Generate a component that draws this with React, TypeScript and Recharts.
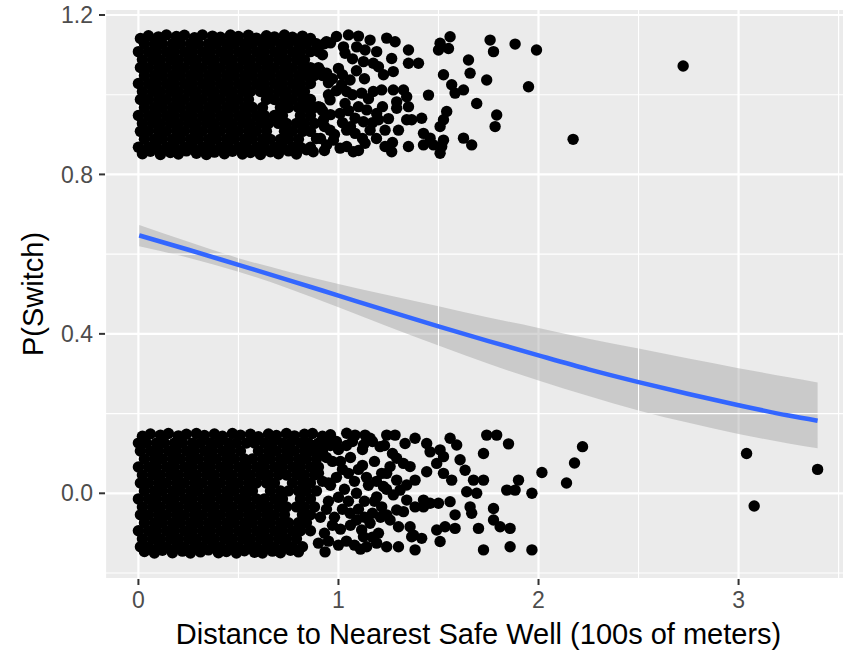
import React from 'react';
import { ComposedChart, XAxis, YAxis, Scatter, Line, Area, ReferenceLine, CartesianGrid } from 'recharts';

const xTicks = [0, 1, 2, 3];
const yTicks = [0, 0.4, 0.8, 1.2];
const xMinor = [0.5, 1.5, 2.5, 3.5];
const yMinor = [-0.2, 0.2, 0.6, 1.0];

// fitted logistic curve and 95% band
const fitX = [0.004, 0.25, 0.5, 0.75, 1, 1.25, 1.5, 1.75, 2, 2.25, 2.5, 2.75, 3, 3.25, 3.395];
const fitP = [0.647, 0.611, 0.573, 0.535, 0.496, 0.457, 0.419, 0.382, 0.346, 0.311, 0.279, 0.249, 0.221, 0.195, 0.182];
const fitLo = [0.620, 0.591, 0.556, 0.514, 0.467, 0.418, 0.371, 0.325, 0.283, 0.244, 0.208, 0.177, 0.149, 0.125, 0.113];
const fitHi = [0.673, 0.631, 0.590, 0.556, 0.525, 0.497, 0.469, 0.441, 0.415, 0.388, 0.363, 0.338, 0.314, 0.291, 0.278];

// dense jittered points, switched (top) — interior rows of [y, xs]
const topRows: [number, number[]][] = [
  [1.128, [0.03,0.08,0.12,0.17,0.21,0.26,0.30,0.35,0.39,0.44,0.48,0.53,0.57,0.62,0.66,0.71,0.75,0.80,0.84,0.89,0.93]],
  [1.108, [0.00,0.05,0.09,0.14,0.18,0.23,0.27,0.32,0.36,0.41,0.45,0.50,0.54,0.59,0.63,0.68,0.72,0.77,0.81,0.86,0.90]],
  [1.088, [0.02,0.07,0.11,0.16,0.20,0.25,0.29,0.34,0.38,0.43,0.47,0.52,0.56,0.61,0.65,0.70,0.74,0.79,0.83]],
  [1.068, [0.01,0.05,0.10,0.14,0.19,0.23,0.28,0.32,0.37,0.41,0.46,0.50,0.55,0.59,0.64,0.68,0.73,0.77,0.82,0.86,0.90]],
  [1.048, [0.03,0.08,0.12,0.17,0.21,0.26,0.30,0.35,0.39,0.44,0.48,0.53,0.57,0.62,0.66,0.71,0.75,0.80,0.84,0.88,0.92]],
  [1.028, [0.00,0.05,0.09,0.14,0.18,0.23,0.27,0.32,0.36,0.41,0.45,0.50,0.54,0.59,0.63,0.68,0.72,0.77,0.81,0.86]],
  [1.008, [0.02,0.07,0.11,0.16,0.20,0.25,0.29,0.34,0.38,0.43,0.47,0.52,0.56,0.61,0.65,0.70,0.74,0.79,0.83]],
  [0.988, [0.01,0.05,0.10,0.14,0.19,0.23,0.28,0.32,0.37,0.41,0.46,0.50,0.55,0.64,0.68,0.73,0.77,0.82,0.86]],
  [0.968, [0.03,0.08,0.12,0.17,0.21,0.26,0.30,0.35,0.39,0.44,0.48,0.53,0.57,0.62,0.71,0.75,0.80,0.84,0.88,0.91]],
  [0.948, [0.00,0.05,0.09,0.14,0.18,0.23,0.27,0.32,0.36,0.41,0.45,0.50,0.54,0.59,0.63,0.68,0.72,0.81,0.86]],
  [0.928, [0.02,0.07,0.11,0.16,0.20,0.25,0.29,0.34,0.38,0.43,0.47,0.52,0.56,0.61,0.65,0.70,0.74,0.79,0.83,0.88]],
  [0.908, [0.01,0.05,0.10,0.14,0.19,0.23,0.28,0.32,0.37,0.41,0.46,0.50,0.55,0.59,0.64,0.73,0.77,0.82,0.86]],
  [0.888, [0.03,0.08,0.12,0.17,0.21,0.26,0.30,0.35,0.39,0.44,0.48,0.53,0.57,0.62,0.66,0.71,0.75,0.80]],
  [0.868, [0.00,0.05,0.09,0.14,0.18,0.23,0.27,0.32,0.36,0.41,0.45,0.50,0.54,0.59,0.63,0.68,0.72,0.77,0.81,0.86]],
];

// dense jittered points, not switched (bottom) — interior rows of [y, xs]
const bottomRows: [number, number[]][] = [
  [0.126, [0.00,0.04,0.09,0.13,0.18,0.22,0.27,0.31,0.36,0.40,0.45,0.49,0.54,0.58,0.63,0.67,0.72,0.76,0.81,0.85,0.90,0.94]],
  [0.106, [0.01,0.06,0.10,0.15,0.19,0.24,0.28,0.33,0.37,0.42,0.46,0.51,0.60,0.65,0.69,0.74,0.78,0.83,0.87,0.92]],
  [0.086, [0.03,0.08,0.12,0.17,0.21,0.26,0.30,0.35,0.39,0.44,0.48,0.53,0.57,0.62,0.66,0.71,0.75,0.80,0.84,0.89]],
  [0.066, [0.00,0.05,0.09,0.14,0.18,0.23,0.27,0.32,0.36,0.41,0.45,0.50,0.54,0.59,0.63,0.68,0.72,0.77,0.81,0.86,0.90]],
  [0.046, [0.02,0.07,0.11,0.16,0.20,0.25,0.29,0.34,0.38,0.43,0.47,0.52,0.56,0.61,0.65,0.70,0.74,0.79,0.83,0.88]],
  [0.026, [0.01,0.05,0.10,0.14,0.19,0.23,0.28,0.32,0.37,0.41,0.46,0.50,0.55,0.59,0.64,0.68,0.77,0.82,0.86,0.95]],
  [0.006, [0.03,0.08,0.12,0.17,0.21,0.26,0.30,0.35,0.39,0.44,0.48,0.53,0.57,0.66,0.71,0.75,0.80,0.84,0.89]],
  [-0.014, [0.00,0.05,0.09,0.14,0.18,0.23,0.27,0.32,0.36,0.41,0.45,0.50,0.54,0.59,0.63,0.68,0.72,0.81,0.86]],
  [-0.034, [0.02,0.07,0.11,0.16,0.20,0.25,0.29,0.34,0.38,0.43,0.47,0.52,0.56,0.61,0.65,0.70,0.74,0.79,0.83,0.88]],
  [-0.054, [0.01,0.05,0.10,0.14,0.19,0.23,0.28,0.32,0.37,0.41,0.46,0.50,0.55,0.59,0.64,0.68,0.73,0.82,0.86]],
  [-0.074, [0.03,0.08,0.12,0.17,0.21,0.26,0.30,0.35,0.39,0.44,0.48,0.53,0.57,0.62,0.66,0.71,0.75,0.80,0.84]],
  [-0.094, [0.00,0.05,0.09,0.14,0.18,0.23,0.27,0.32,0.36,0.41,0.45,0.50,0.54,0.59,0.63,0.68,0.72,0.77,0.81,0.86]],
  [-0.114, [0.02,0.07,0.11,0.16,0.20,0.25,0.29,0.34,0.38,0.43,0.47,0.52,0.56,0.61,0.65,0.70,0.74,0.79]],
  [-0.134, [0.01,0.05,0.10,0.14,0.19,0.23,0.28,0.32,0.37,0.41,0.46,0.50,0.55,0.59,0.64,0.68,0.73,0.77,0.82]],
];

// edge and scattered points, switched (top): [x, y]
const topSparse: [number, number][] = [
  [0.01,1.141],[0.05,1.148],[0.10,1.145],[0.14,1.150],[0.19,1.146],[0.23,1.149],[0.28,1.143],[0.32,1.150],
  [0.37,1.147],[0.41,1.144],[0.46,1.150],[0.50,1.146],[0.55,1.149],[0.59,1.142],[0.64,1.148],[0.68,1.145],
  [0.73,1.150],[0.77,1.144],[0.82,1.147],[0.86,1.141],
  [0.02,0.852],[0.06,0.858],[0.11,0.850],[0.16,0.855],[0.20,0.851],[0.24,0.859],[0.29,0.853],[0.34,0.850],
  [0.38,0.856],[0.43,0.852],[0.47,0.858],[0.52,0.851],[0.56,0.855],[0.61,0.850],[0.66,0.857],[0.70,0.852],
  [0.75,0.859],[0.79,0.851],[0.84,0.862],
  [0.92,1.10],[0.95,1.00],[0.90,0.97],[0.93,0.92],[0.97,1.04],[0.91,1.06],[0.89,0.89],[0.92,0.96],
  [0.96,1.13],[1.07,1.09],[1.02,1.05],[1.09,1.06],[1.13,1.04],[0.95,1.03],[1.07,1.00],[0.99,1.01],
  [1.15,0.99],[1.05,0.96],[0.96,0.95],[1.10,0.97],[1.22,0.97],[1.17,0.93],[1.02,0.93],[1.06,0.92],
  [0.98,0.90],[1.12,0.89],[1.19,0.89],[0.91,0.89],[1.25,0.94],[1.27,0.88],[1.10,0.86],[0.93,0.86],
  [0.94,1.133],[0.99,1.146],[1.05,1.15],[1.10,1.147],[1.025,1.12],[1.033,1.104],[1.091,1.12],[1.133,1.112],
  [1.158,1.137],[1.191,1.108],[1.241,1.142],[1.283,1.133],[1.266,1.091],[1.35,1.112],[1.35,1.079],[1.40,1.079],
  [1.125,1.083],[1.174,1.079],[1.20,1.07],[1.225,1.05],[1.274,1.058],[1.0,1.066],[0.941,1.054],[1.058,1.037],
  [1.016,1.025],[1.041,1.008],[1.116,1.004],[1.174,1.008],[1.216,1.012],[1.274,1.012],[1.325,1.012],[1.341,0.995],
  [1.35,0.970],[1.291,0.966],[1.291,0.982],[1.141,0.962],[1.191,0.953],[1.083,0.941],[1.125,0.932],[1.20,0.937],
  [1.033,0.978],[1.008,0.953],[0.958,0.987],[0.925,0.937],[0.958,0.911],[1.041,0.911],[1.083,0.903],[1.158,0.911],
  [1.233,0.911],[1.30,0.911],[1.341,0.937],[1.366,0.937],[1.416,0.941],[1.425,0.903],[1.458,0.891],[1.475,0.874],
  [1.516,0.870],[1.525,0.886],[1.508,0.853],[1.425,0.874],[1.35,0.870],[1.233,0.870],[1.266,0.857],[1.133,0.878],
  [1.074,0.857],[1.041,0.870],[0.975,0.886],[0.941,0.874],[0.874,0.857],[1.008,0.866],[1.525,0.937],[1.541,0.958],
  [1.508,0.920],[1.45,0.999],[1.525,1.05],[1.566,1.025],[1.583,1.004],[1.625,1.012],[1.658,1.054],[1.65,1.087],
  [1.691,0.978],[1.741,1.037],[1.508,1.129],[1.558,1.1455],[1.55,1.116],[1.50,1.112],[1.758,1.137],[1.775,1.108],
  [1.883,1.127],[1.99,1.112],[1.95,1.02],[1.791,0.949],[1.783,0.920],[1.625,0.891],[1.666,0.874],[2.173,0.888],
  [2.723,1.072],
];

// edge and scattered points, not switched (bottom): [x, y]
const bottomSparse: [number, number][] = [
  [0.02,0.143],[0.06,0.149],[0.11,0.146],[0.15,0.150],[0.20,0.144],[0.24,0.148],[0.29,0.150],[0.33,0.145],
  [0.38,0.149],[0.42,0.143],[0.47,0.150],[0.51,0.146],[0.56,0.148],[0.60,0.142],[0.65,0.149],[0.69,0.145],
  [0.74,0.150],[0.78,0.144],[0.83,0.148],[0.87,0.150],[0.92,0.143],[0.96,0.147],
  [0.03,-0.146],[0.08,-0.150],[0.12,-0.143],[0.17,-0.149],[0.22,-0.145],[0.26,-0.150],[0.31,-0.147],[0.35,-0.142],
  [0.40,-0.149],[0.44,-0.146],[0.49,-0.150],[0.53,-0.144],[0.58,-0.148],[0.62,-0.150],[0.67,-0.145],[0.71,-0.149],
  [0.76,-0.143],[0.80,-0.147],
  [0.92,0.03],[0.97,0.08],[1.00,0.11],[0.95,-0.02],[0.98,-0.06],[0.93,-0.10],[1.02,0.06],[0.96,0.12],
  [1.01,-0.09],[0.90,-0.125],[1.03,0.01],[0.99,0.04],[1.06,0.09],[1.08,0.03],[1.05,-0.02],[1.10,0.06],
  [1.12,0.11],[1.04,-0.12],[1.08,-0.13],[1.15,0.02],[1.18,0.08],[1.17,-0.05],[1.13,-0.02],[1.20,-0.10],
  [1.10,-0.04],[0.94,-0.04],[0.91,0.10],[1.00,-0.01],
  [0.88,0.12],[0.94,0.09],[0.99,0.13],[1.04,0.12],[1.07,0.13],[1.01,0.08],[1.05,0.05],[0.96,0.02],
  [1.12,0.07],[1.14,0.04],[1.19,0.03],[1.09,0.00],[1.02,-0.04],[1.13,-0.06],[0.97,-0.08],[1.06,-0.08],
  [1.21,-0.06],[1.18,-0.02],[1.24,0.01],[0.95,-0.12],[1.00,-0.13],[1.11,-0.14],[1.17,-0.11],[0.91,-0.06],
  [0.90,0.05],[1.27,0.10],[1.23,0.12],[1.17,0.13],
  [1.041,0.1505],[1.083,0.146],[1.133,0.146],[1.158,0.138],[1.125,0.121],[1.208,0.117],[1.241,0.146],[1.283,0.146],
  [1.333,0.125],[1.383,0.138],[1.441,0.125],[1.458,0.104],[1.508,0.109],[1.558,0.138],[1.591,0.121],[1.525,0.092],
  [1.491,0.075],[1.608,0.084],[1.633,0.058],[1.675,0.033],[1.725,0.033],[1.741,0.146],[1.791,0.146],[1.85,0.124],
  [1.725,0.100],[1.441,0.054],[1.525,0.050],[1.566,0.033],[1.383,0.033],[1.291,0.088],[1.325,0.075],[1.358,0.067],
  [1.241,0.050],[1.291,0.033],[1.341,0.021],[1.308,0.008],[1.274,-0.004],[1.341,-0.017],[1.291,-0.042],[1.325,-0.046],
  [1.258,-0.067],[1.30,-0.084],[1.358,-0.084],[1.375,-0.105],[1.416,-0.113],[1.383,-0.142],[1.30,-0.134],[1.241,-0.134],
  [1.191,-0.125],[1.141,-0.134],[1.158,-0.075],[1.116,-0.092],[1.091,-0.067],[1.125,-0.109],[0.933,-0.147],[1.425,-0.034],
  [1.458,-0.025],[1.50,-0.025],[1.558,-0.021],[1.583,-0.054],[1.658,-0.034],[1.641,0.004],[1.691,0.0],[1.666,-0.050],
  [1.775,-0.038],[1.775,-0.067],[1.808,-0.084],[1.858,-0.088],[1.841,0.008],[1.883,0.008],[1.90,0.033],[1.967,0.0],
  [2.017,0.052],[1.70,-0.088],[1.491,-0.092],[1.533,-0.084],[1.583,-0.088],[1.508,-0.121],[1.366,-0.109],[1.725,-0.142],
  [1.858,-0.134],[1.967,-0.142],[1.216,0.050],[1.258,0.067],[1.425,-0.017],[1.383,-0.034],[1.225,0.017],[1.191,-0.009],
  [1.216,-0.034],[1.241,-0.054],[1.058,-0.050],
  [2.14,0.026],[2.18,0.076],[2.22,0.117],[3.04,0.100],[3.078,-0.032],[3.395,0.060],
];

const fitData = fitX.map((x, i) => ({ x, p: fitP[i], band: [fitLo[i], fitHi[i]] }));

const points: { x: number; y: number }[] = [];
topRows.forEach(([y, xs]) => xs.forEach((x) => points.push({ x, y })));
bottomRows.forEach(([y, xs]) => xs.forEach((x) => points.push({ x, y })));
topSparse.forEach(([x, y]) => points.push({ x, y }));
bottomSparse.forEach(([x, y]) => points.push({ x, y }));

const FONT = '"Liberation Sans", Arial, Helvetica, sans-serif';

const Dot = (props: any) => <circle cx={props.cx} cy={props.cy} r={5.7} fill="#000000" />;

export default function App() {
  return (
    <div style={{ position: 'absolute', left: 0, top: 0, width: 843, height: 651, overflow: 'hidden', background: '#FFFFFF' }}>
      <ComposedChart width={860} height={651} data={fitData} margin={{ top: 9, right: 8, bottom: 0, left: 0 }}>
        <CartesianGrid fill="#EBEBEB" stroke="#FFFFFF" strokeWidth={2.2} />
        {xMinor.map((v) => (
          <ReferenceLine key={'vx' + v} x={v} stroke="#FFFFFF" strokeWidth={1.1} />
        ))}
        {yMinor.map((v) => (
          <ReferenceLine key={'hy' + v} y={v} stroke="#FFFFFF" strokeWidth={1.1} />
        ))}
        <XAxis
          type="number"
          dataKey="x"
          domain={[-0.167, 3.567]}
          ticks={xTicks}
          allowDataOverflow
          height={72}
          axisLine={false}
          tickSize={6}
          tickMargin={7}
          tickLine={{ stroke: '#333333', strokeWidth: 2 }}
          tick={{ fill: '#4D4D4D', fontSize: 23, fontFamily: FONT }}
          interval={0}
        />
        <YAxis
          type="number"
          domain={[-0.215, 1.215]}
          ticks={yTicks}
          allowDataOverflow
          width={105}
          axisLine={false}
          tickSize={6}
          tickMargin={6}
          tickLine={{ stroke: '#333333', strokeWidth: 2 }}
          tick={{ fill: '#4D4D4D', fontSize: 23, fontFamily: FONT }}
          tickFormatter={(v: number) => v.toFixed(1)}
          interval={0}
        />
        <Scatter data={points} dataKey="y" shape={Dot} isAnimationActive={false} />
        <Area dataKey="band" type="monotone" fill="#999999" fillOpacity={0.4} stroke="none" isAnimationActive={false} />
        <Line dataKey="p" type="monotone" stroke="#3366FF" strokeWidth={4.5} dot={false} isAnimationActive={false} />
      </ComposedChart>
      <svg width={843} height={651} style={{ position: 'absolute', left: 0, top: 0, pointerEvents: 'none' }}>
        <text x={478.5} y={644} textAnchor="middle" fontSize={29} fontFamily={FONT} fill="#000000">
          Distance to Nearest Safe Well (100s of meters)
        </text>
        <text transform="translate(43,294) rotate(-90)" textAnchor="middle" fontSize={29} fontFamily={FONT} fill="#000000">
          P(Switch)
        </text>
      </svg>
    </div>
  );
}
